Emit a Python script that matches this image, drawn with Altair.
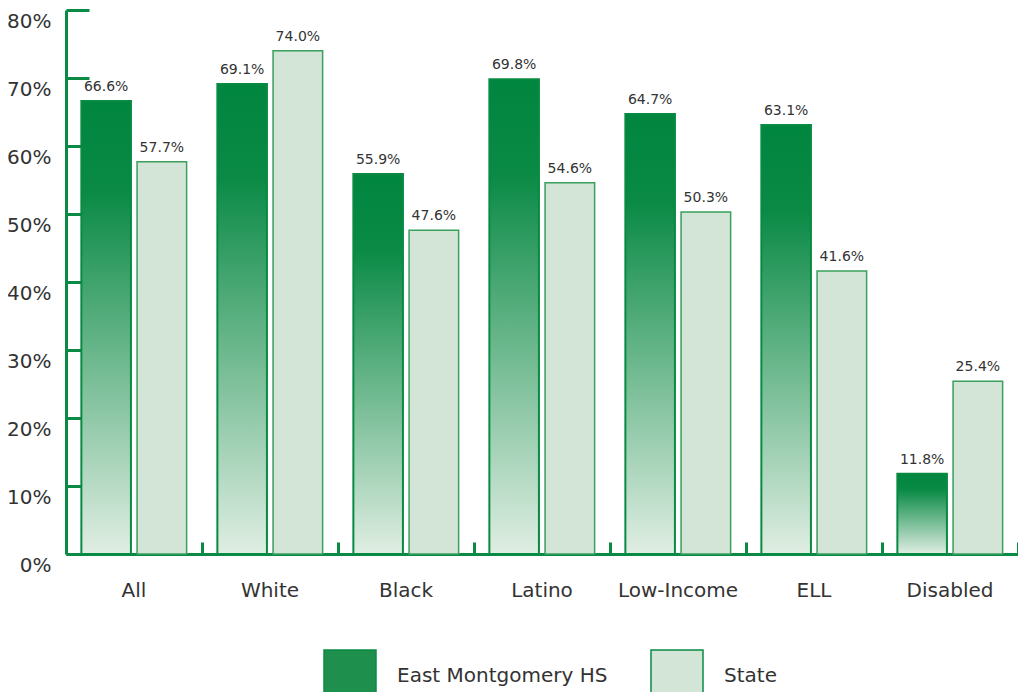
import altair as alt
import pandas as pd

categories = ["All", "White", "Black", "Latino", "Low-Income", "ELL", "Disabled"]
school_values = [66.6, 69.1, 55.9, 69.8, 64.7, 63.1, 11.8]
state_values = [57.7, 74.0, 47.6, 54.6, 50.3, 41.6, 25.4]
series_names = ["East Montgomery HS", "State"]
y_tick_values = [0, 10, 20, 30, 40, 50, 60, 70, 80]

rows = []
for c, a, b in zip(categories, school_values, state_values):
    rows.append({"group": c, "series": series_names[0], "value": a})
    rows.append({"group": c, "series": series_names[1], "value": b})
df = pd.DataFrame(rows)
df["label"] = df["value"].map(lambda v: f"{v:.1f}%")

FONT = "DejaVu Sans"
GREEN = "#0a8a45"
TEXT = "#333333"
PLOT_W = 952
STEP = PLOT_W / len(categories)

xscale = alt.Scale(domain=categories, paddingInner=0.226, paddingOuter=0.113)
offscale = alt.Scale(domain=series_names, paddingInner=0.11, paddingOuter=0)
yscale = alt.Scale(domain=[0, 80], nice=False, zero=True)

x_main = alt.Axis(orient="bottom", title=None, domain=True, domainColor=GREEN,
                  domainWidth=3, ticks=False, labelFontSize=20, labelColor=TEXT,
                  labelPadding=26, labelFont=FONT, labelAngle=0, grid=False)
x_tick_axis = alt.Axis(orient="bottom", title=None, domain=False, labels=False,
                       ticks=True, tickSize=12, tickWidth=3, tickOffset=STEP / 2,
                       tickColor=GREEN, offset=-12, grid=False)
y_main = alt.Axis(orient="left", title=None, values=y_tick_values, domain=True,
                  domainColor=GREEN, domainWidth=3, ticks=False, grid=False,
                  labelFontSize=20, labelColor=TEXT, labelFont=FONT,
                  labelPadding=15, labelOffset=11, labelOverlap=False,
                  labelExpr="datum.value + '%'")
y_tick_axis = alt.Axis(orient="left", title=None, values=y_tick_values,
                       domain=False, labels=False, ticks=True, tickSize=23,
                       tickWidth=3, tickColor=GREEN, offset=-23, grid=False)

gradient = alt.LinearGradient(
    gradient="linear", x1=0, x2=0, y1=0, y2=1,
    stops=[alt.GradientStop(color="#00853f", offset=0),
           alt.GradientStop(color="#0a8a45", offset=0.2),
           alt.GradientStop(color="#e0eee3", offset=1)],
)

base = alt.Chart(df)

tick_layer = base.mark_bar(opacity=0).encode(
    x=alt.X("group:N", scale=xscale, axis=x_tick_axis, sort=categories),
    xOffset=alt.XOffset("series:N", scale=offscale, sort=series_names),
    y=alt.Y("value:Q", scale=yscale, axis=y_tick_axis),
)

em_bars = base.transform_filter(alt.datum.series == series_names[0]).mark_bar(
    fill=gradient, stroke="#078a42", strokeWidth=2
).encode(
    x=alt.X("group:N", scale=xscale, axis=x_main, sort=categories),
    xOffset=alt.XOffset("series:N", scale=offscale, sort=series_names),
    y=alt.Y("value:Q", scale=yscale, axis=y_main),
)

state_bars = base.transform_filter(alt.datum.series == series_names[1]).mark_bar(
    stroke="#3aa05c", strokeWidth=1.5
).encode(
    x=alt.X("group:N", scale=xscale, axis=None, sort=categories),
    xOffset=alt.XOffset("series:N", scale=offscale, sort=series_names),
    y=alt.Y("value:Q", scale=yscale, axis=None),
    color=alt.Color(
        "series:N",
        scale=alt.Scale(domain=series_names, range=["#1f8f4e", "#d2e5d6"]),
        legend=alt.Legend(
            orient="none", legendX=257, legendY=639, direction="horizontal",
            title=None, symbolType="square", symbolSize=2704,
            symbolStrokeColor=GREEN, symbolStrokeWidth=1.5,
            symbolOpacity=1, labelFontSize=20, labelFont=FONT,
            labelColor=TEXT, labelOffset=20, columnPadding=40, labelLimit=0,
        ),
    ),
)

labels = base.mark_text(
    baseline="bottom", dy=-7, fontSize=14, font=FONT, color=TEXT
).encode(
    x=alt.X("group:N", scale=xscale, axis=None, sort=categories),
    xOffset=alt.XOffset("series:N", scale=offscale, sort=series_names),
    y=alt.Y("value:Q", scale=yscale, axis=None),
    text="label:N",
)

chart = alt.layer(tick_layer, em_bars, state_bars, labels).resolve_axis(
    x="independent", y="independent"
).properties(
    width=PLOT_W, height=544,
    autosize=alt.AutoSizeParams(type="none"),
    padding={"left": 58, "top": 2, "right": 0, "bottom": 138},
    background="white",
).configure_view(stroke=None)

chart.save("out.html", embed_options={"renderer": "svg", "actions": False})
